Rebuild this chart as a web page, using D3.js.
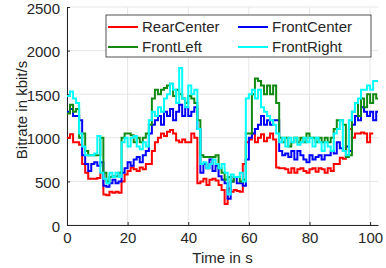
<!DOCTYPE html>
<html>
<head>
<meta charset="utf-8">
<script src="https://cdn.jsdelivr.net/npm/d3@7"></script>
<style>
  body { margin: 0; background: #fff; }
  svg text { font-family: "Liberation Sans", Arial, sans-serif; fill: #262626; }
</style>
</head>
<body>
<div id="chart"></div>
<script>
// bitrate per second (kbit/s), one value per 1 s step
let rearCenter = [1000,1040,950,950,920,700,600,530,530,530,540,600,350,340,380,370,380,370,500,580,
  620,660,640,620,660,640,700,700,850,950,1000,1050,1020,1070,1090,1050,970,950,980,950,
  950,1050,1000,480,500,530,460,520,530,510,460,400,240,420,380,400,390,380,700,950,
  980,1050,950,1000,1040,960,1000,1050,980,660,650,650,640,600,650,600,640,650,620,600,
  640,650,610,650,640,600,650,620,700,700,770,760,800,1100,1000,1050,1050,1060,1050,950,1050];
let frontCenter = [1300,1330,1250,1250,1200,800,700,620,700,720,680,720,450,440,480,520,480,500,600,650,
  720,680,750,780,720,800,850,1050,1150,1200,1250,1150,1300,1250,1330,1200,1300,1380,1250,1350,
  1250,1300,1350,1100,600,700,650,750,620,680,560,520,480,300,500,550,480,480,450,750,
  1000,1050,1100,1150,1250,1150,1200,1150,1200,1200,850,800,820,780,850,750,850,800,750,720,
  800,750,780,800,750,800,800,850,820,950,880,850,900,850,1150,1250,1200,1350,1300,1250,1300,1200,1300];
let frontLeft = [1280,1380,1300,1330,1000,1050,850,800,800,800,800,1000,600,500,550,560,560,600,1000,1050,
  1050,1030,950,1000,950,1000,1050,1150,1450,1550,1500,1550,1570,1600,1620,1480,1550,1500,1450,1400,
  1480,1450,1400,1200,800,780,780,780,780,800,650,600,520,550,500,550,550,500,520,1050,
  1050,1500,1680,1650,1600,1500,1600,1500,1600,1400,1000,950,1000,900,950,1000,950,1000,950,1050,
  1000,1000,950,1000,950,1000,950,1000,1100,1200,1200,1150,780,800,1300,1400,1250,1450,1350,1500,1400,1500,1450];
let frontRight = [1480,1530,1450,1400,1050,900,800,800,800,820,1020,600,530,480,600,550,600,550,950,1000,
  900,1000,1020,900,870,950,900,1200,1300,1250,1350,1300,1450,1500,1620,1550,1400,1800,1450,1350,
  1600,1500,1550,1100,700,720,650,700,750,700,650,700,600,350,580,550,550,600,500,1450,
  1500,1550,1450,1550,1350,1300,1250,1200,1150,1050,950,1000,900,1000,950,1000,920,950,1000,950,
  1000,900,1000,950,850,950,900,850,1050,1100,1200,850,800,1200,1300,1400,1450,1550,1550,1600,1550,1650,1650];

let seriesNames = ["RearCenter", "FrontCenter", "FrontLeft", "FrontRight"];
let seriesColors = ["#ff0000", "#0000ff", "#128a12", "#00ffff"];
let seriesData = [rearCenter, frontCenter, frontLeft, frontRight];
let xTicks = [0, 20, 40, 60, 80, 100];
let yTicks = [0, 500, 1000, 1500, 2000, 2500];

let margin = {top: 7, right: 8, bottom: 43, left: 67};
let width = 386 - margin.left - margin.right;
let height = 268 - margin.top - margin.bottom;

let svg = d3.select("#chart").append("svg")
  .attr("width", 386)
  .attr("height", 268)
  .append("g")
  .attr("transform", "translate(" + margin.left + "," + margin.top + ")");

let x = d3.scaleLinear().domain([0, 102.6]).range([0, width]);
let y = d3.scaleLinear().domain([0, 2500]).range([height, 0]);

// grid
svg.append("g").selectAll("line").data(xTicks).join("line")
  .attr("x1", d => x(d)).attr("x2", d => x(d))
  .attr("y1", 0).attr("y2", height)
  .attr("stroke", "#e6e6e6").attr("stroke-width", 1);
svg.append("g").selectAll("line").data(yTicks).join("line")
  .attr("x1", 0).attr("x2", width)
  .attr("y1", d => y(d)).attr("y2", d => y(d))
  .attr("stroke", "#e6e6e6").attr("stroke-width", 1);

// axes
let xAxis = svg.append("g")
  .attr("transform", "translate(0," + height + ")")
  .call(d3.axisBottom(x).tickValues(xTicks).tickFormat(d3.format("d"))
    .tickSizeInner(-3).tickSizeOuter(0).tickPadding(7));
let yAxis = svg.append("g")
  .call(d3.axisLeft(y).tickValues(yTicks).tickFormat(d3.format("d"))
    .tickSizeInner(-3).tickSizeOuter(0).tickPadding(7));
[xAxis, yAxis].forEach(a => {
  a.select(".domain").attr("stroke", "#262626");
  a.selectAll(".tick line").attr("stroke", "#262626");
  a.selectAll("text").style("font-size", "15px").attr("fill", "#262626");
});
yAxis.selectAll(".tick text").attr("dy", "0.4em");

// lines
svg.append("clipPath").attr("id", "clip")
  .append("rect").attr("width", width).attr("height", height);

let line = d3.line()
  .x(d => x(d[0]))
  .y(d => y(d[1]))
  .curve(d3.curveStepAfter);

seriesData.forEach((vals, i) => {
  let pts = vals.map((v, t) => [t, v]);
  pts.push([vals.length, vals[vals.length - 1]]);
  svg.append("path")
    .datum(pts)
    .attr("clip-path", "url(#clip)")
    .attr("fill", "none")
    .attr("stroke", seriesColors[i])
    .attr("stroke-width", 2)
    .attr("d", line);
});

// axis labels
svg.append("text")
  .attr("x", width / 2)
  .attr("y", height + 38)
  .style("text-anchor", "middle")
  .style("font-size", "15px")
  .text("Time in s");

svg.append("text")
  .attr("transform", "rotate(-90)")
  .attr("x", -height / 2 + 6)
  .attr("y", -40)
  .style("text-anchor", "middle")
  .style("font-size", "15px")
  .text("Bitrate in kbit/s");

// legend
let legend = svg.append("g").attr("transform", "translate(" + (106 - margin.left) + "," + (15 - margin.top) + ")");
legend.append("rect")
  .attr("width", 265).attr("height", 42)
  .attr("fill", "#fff").attr("stroke", "#262626").attr("stroke-width", 0.8);

let items = legend.selectAll(".legend").data(seriesNames).join("g")
  .attr("class", "legend")
  .attr("transform", (d, i) => "translate(" + (i % 2 === 0 ? 2 : 132) + "," + (i < 2 ? 12 : 32) + ")");
items.append("line")
  .attr("x1", 0).attr("x2", 30)
  .attr("stroke", (d, i) => seriesColors[i])
  .attr("stroke-width", 2);
items.append("text")
  .attr("x", 34)
  .attr("dy", "0.35em")
  .style("font-size", "15px")
  .text(d => d);
</script>
</body>
</html>
